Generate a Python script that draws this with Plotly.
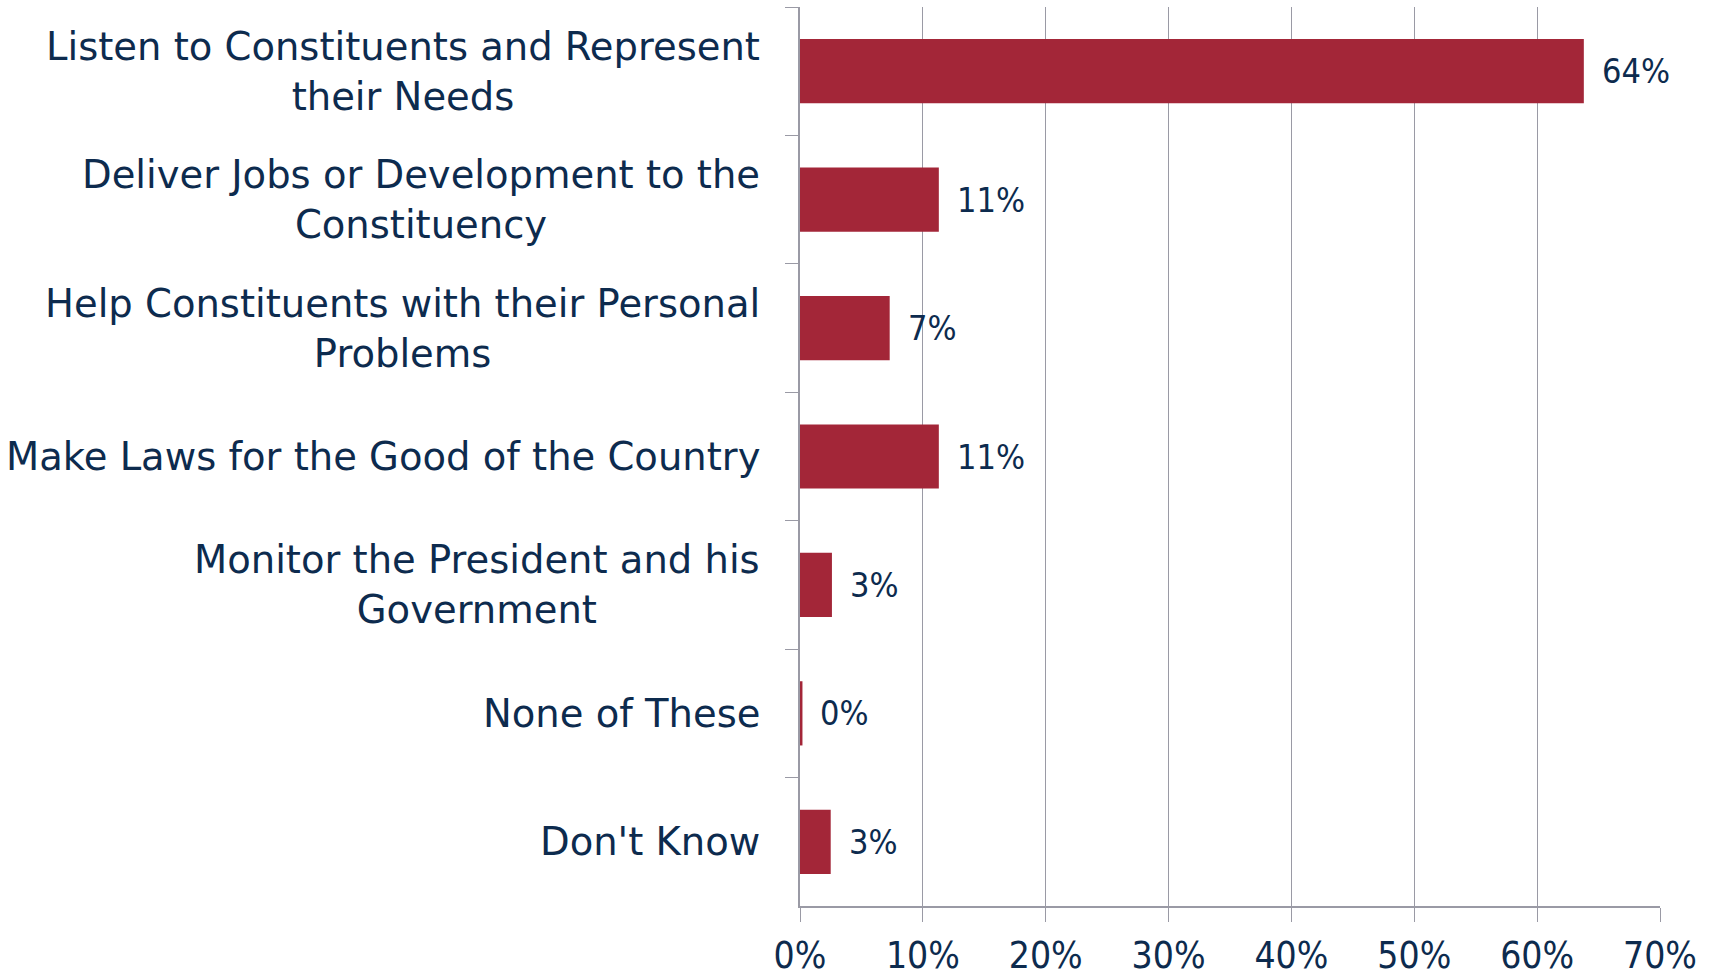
import plotly.graph_objects as go

categories = [
    "Listen to Constituents and Represent<br>their Needs",
    "Deliver Jobs or Development to the<br>Constituency",
    "Help Constituents with their Personal<br>Problems",
    "Make Laws for the Good of the Country",
    "Monitor the President and his<br>Government",
    "None of These",
    "Don't Know",
]
values = [63.8, 11.3, 7.3, 11.3, 2.6, 0.2, 2.5]
labels = ["64%", "11%", "7%", "11%", "3%", "0%", "3%"]
x_ticks = [0, 10, 20, 30, 40, 50, 60, 70]
x_tick_text = ["0%", "10%", "20%", "30%", "40%", "50%", "60%", "70%"]

bar_color = "#A32638"
text_color = "#0D2B4E"
line_color = "#9A9AA5"
label_font = "DejaVu Sans, sans-serif"
number_font = "DejaVu Sans Condensed, sans-serif"

fig = go.Figure()

fig.add_trace(go.Bar(
    x=values,
    y=categories,
    orientation="h",
    marker=dict(color=bar_color, line=dict(width=0)),
    hoverinfo="skip",
))

# category labels: centred lines, right edge left of the axis
for cat in categories:
    fig.add_annotation(
        x=0, xref="paper", y=cat, yref="y",
        text=cat, showarrow=False,
        xanchor="right", yanchor="middle", align="center",
        xshift=-38,
        font=dict(family=label_font, size=38.5, color=text_color),
    )

# value labels to the right of each bar
for cat, v, lab in zip(categories, values, labels):
    fig.add_annotation(
        x=v, y=cat, text=lab, showarrow=False,
        xanchor="left", yanchor="middle", xshift=16,
        font=dict(family=number_font, size=34, color=text_color),
    )

fig.update_layout(
    width=1711,
    height=977,
    margin=dict(l=800, r=51, t=7, b=71),
    paper_bgcolor="white",
    plot_bgcolor="white",
    showlegend=False,
    bargap=0.5,
    font=dict(family=label_font, color=text_color),
    xaxis=dict(
        range=[0, 70],
        tickvals=x_ticks,
        ticktext=x_tick_text,
        showgrid=True,
        gridcolor=line_color,
        gridwidth=1,
        showline=True,
        linecolor=line_color,
        linewidth=1.5,
        ticks="outside",
        ticklen=14,
        tickcolor=line_color,
        tickfont=dict(family=number_font, size=37, color=text_color),
        ticklabelstandoff=2,
        zeroline=False,
        automargin=False,
        fixedrange=True,
    ),
    yaxis=dict(
        autorange="reversed",
        showticklabels=False,
        showline=True,
        linecolor=line_color,
        linewidth=1.5,
        ticks="outside",
        ticklen=13,
        tickcolor=line_color,
        tickson="boundaries",
        showgrid=False,
        automargin=False,
        fixedrange=True,
    ),
)

# drop the page's default body margin so the figure fills the window
fig.write_html(
    "out.html",
    config={"displayModeBar": False},
    post_script="document.body.style.margin='0';document.body.style.overflow='hidden';",
)
